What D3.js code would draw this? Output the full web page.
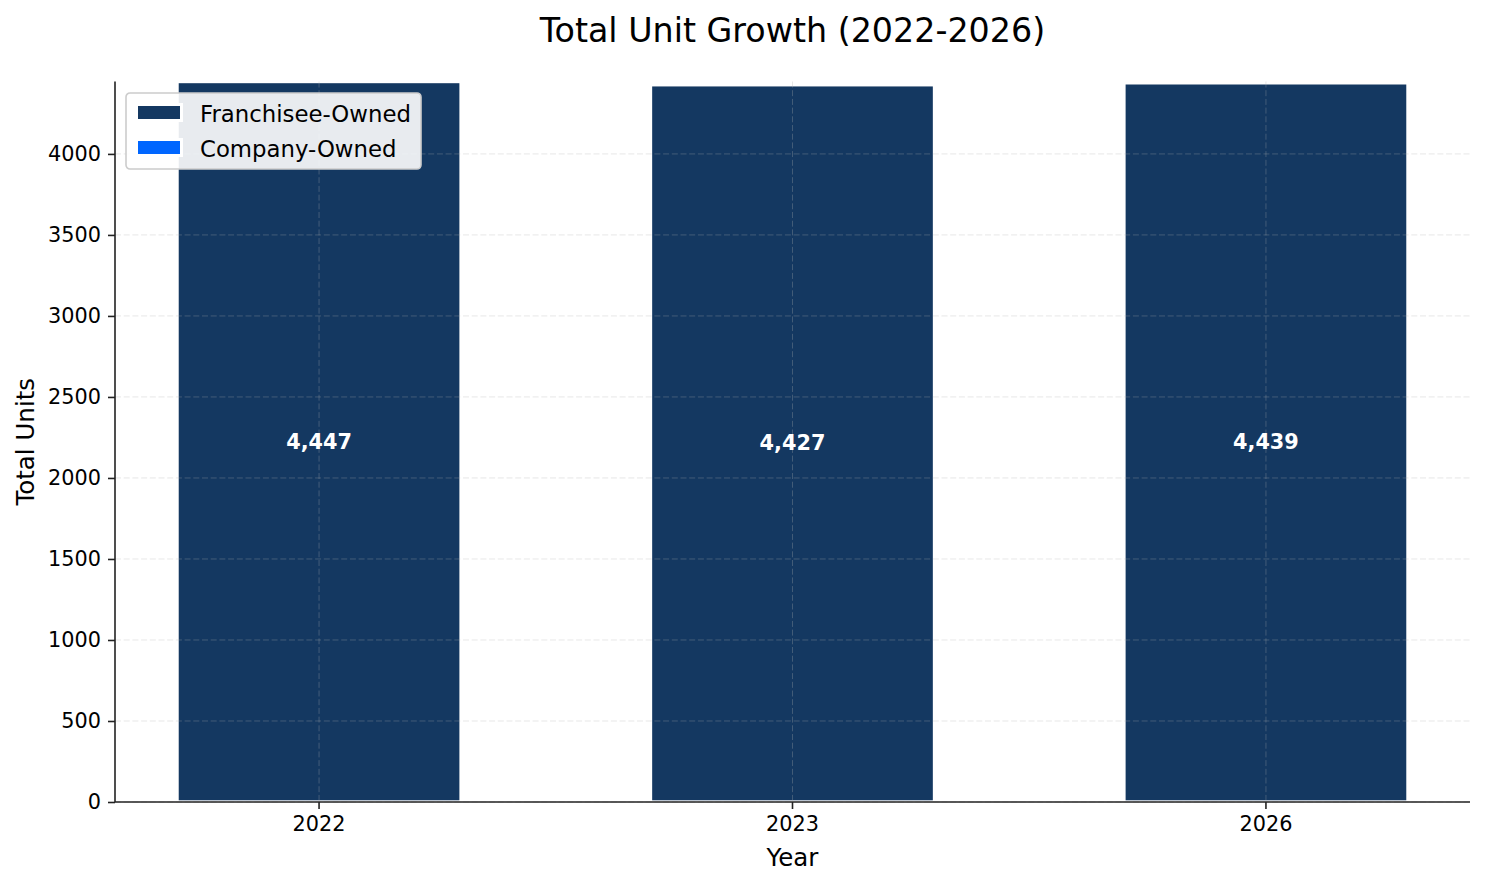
<!DOCTYPE html>
<html>
<head>
<meta charset="utf-8">
<script src="https://cdn.jsdelivr.net/npm/d3@7"></script>
<style>
  body { margin: 0; background: #fff; }
  svg { display: block; font-family: "DejaVu Sans", sans-serif; }
</style>
</head>
<body>
<svg id="chart" width="1485" height="884"></svg>
<script>
const years = ["2022", "2023", "2026"];
const franchiseeOwned = [4447, 4427, 4439];
const companyOwned = [0, 0, 0];
const totals = [4447, 4427, 4439];
const yTicks = [0, 500, 1000, 1500, 2000, 2500, 3000, 3500, 4000];
const seriesNames = ["Franchisee-Owned", "Company-Owned"];
const seriesColors = ["#143861", "#0066ff"];

const svg = d3.select("#chart");
const margin = { top: 81.5, right: 15, bottom: 82, left: 115 };
const width = 1485 - margin.left - margin.right;
const height = 884 - margin.top - margin.bottom;

const g = svg.append("g")
  .attr("transform", `translate(${margin.left},${margin.top})`);

const xscale = d3.scaleBand()
  .domain(years)
  .range([0, width])
  .paddingInner(0.4)
  .paddingOuter(0.131);

const yscale = d3.scaleLinear()
  .domain([0, d3.max(totals)])
  .range([height, 0]);

// stacked bars: franchisee at the bottom, company on top
const rows = years.map((y, i) => ({ year: y, franchisee: franchiseeOwned[i], company: companyOwned[i], total: totals[i] }));
const stack = d3.stack().keys(["franchisee", "company"])(rows);

stack.forEach((layer, li) => {
  g.append("g")
    .selectAll("rect")
    .data(layer)
    .join("rect")
    .attr("x", (d) => xscale(d.data.year))
    .attr("width", xscale.bandwidth())
    .attr("y", (d) => yscale(d[1]))
    .attr("height", (d) => yscale(d[0]) - yscale(d[1]))
    .attr("fill", seriesColors[li])
    .attr("stroke", "#fff")
    .attr("stroke-width", 3.4);
});

// grid on top of the bars
const grid = g.append("g")
  .attr("stroke", "#b0b0b0")
  .attr("stroke-opacity", 0.3)
  .attr("stroke-width", 1)
  .attr("stroke-dasharray", "6,2.7");

grid.selectAll(".hgrid")
  .data(yTicks)
  .join("line")
  .attr("x1", 0).attr("x2", width)
  .attr("y1", (d) => yscale(d)).attr("y2", (d) => yscale(d));

grid.selectAll(".vgrid")
  .data(years)
  .join("line")
  .attr("x1", (d) => xscale(d) + xscale.bandwidth() / 2)
  .attr("x2", (d) => xscale(d) + xscale.bandwidth() / 2)
  .attr("y1", 0).attr("y2", height);

// value labels in the middle of each bar
g.append("g")
  .selectAll("text")
  .data(rows)
  .join("text")
  .attr("x", (d) => xscale(d.year) + xscale.bandwidth() / 2)
  .attr("y", (d) => yscale(d.total / 2))
  .attr("text-anchor", "middle")
  .attr("dominant-baseline", "central")
  .attr("fill", "#fff")
  .attr("font-weight", "bold")
  .attr("font-size", "20.8px")
  .text((d) => d3.format(",")(d.total));

// axes
const xaxis = d3.axisBottom(xscale).tickSize(7).tickPadding(7);
const yaxis = d3.axisLeft(yscale).tickValues(yTicks).tickFormat(d3.format("d")).tickSize(7).tickPadding(7);

const gx = g.append("g").attr("transform", `translate(0,${height})`).call(xaxis);
const gy = g.append("g").call(yaxis);

[gx, gy].forEach((ax) => {
  ax.select(".domain").attr("stroke", "#222").attr("stroke-width", 1.6);
  ax.selectAll(".tick line").attr("stroke", "#222").attr("stroke-width", 1.6);
  ax.selectAll(".tick text")
    .attr("fill", "#000")
    .attr("font-size", "20.8px")
    .attr("font-family", "DejaVu Sans, sans-serif");
});
gx.select(".domain").attr("d", `M0,0H${width}`);
gy.select(".domain").attr("d", `M0,0V${height}`);

// title and axis labels
svg.append("text")
  .attr("x", margin.left + width / 2)
  .attr("y", 30)
  .attr("text-anchor", "middle")
  .attr("dominant-baseline", "central")
  .attr("font-size", "33.3px")
  .attr("fill", "#000")
  .text("Total Unit Growth (2022-2026)");

svg.append("text")
  .attr("x", margin.left + width / 2)
  .attr("y", 857)
  .attr("text-anchor", "middle")
  .attr("dominant-baseline", "central")
  .attr("font-size", "24.5px")
  .attr("fill", "#000")
  .text("Year");

svg.append("text")
  .attr("transform", `translate(25,${margin.top + height / 2}) rotate(-90)`)
  .attr("text-anchor", "middle")
  .attr("dominant-baseline", "central")
  .attr("font-size", "24.5px")
  .attr("fill", "#000")
  .text("Total Units");

// legend
const legend = svg.append("g").attr("transform", "translate(126,93)");
legend.append("rect")
  .attr("width", 295)
  .attr("height", 76)
  .attr("rx", 4)
  .attr("fill", "#fff")
  .attr("fill-opacity", 0.9)
  .attr("stroke", "#ccc")
  .attr("stroke-width", 1.6);

const items = legend.selectAll(".item")
  .data(seriesNames)
  .join("g")
  .attr("transform", (d, i) => `translate(10.5,${11.5 + i * 35})`);

items.append("rect")
  .attr("width", 45)
  .attr("height", 16)
  .attr("fill", (d, i) => seriesColors[i])
  .attr("stroke", "#fff")
  .attr("stroke-width", 3);

items.append("text")
  .attr("x", 63.5)
  .attr("y", 9)
  .attr("dominant-baseline", "central")
  .attr("font-size", "22.8px")
  .attr("fill", "#000")
  .text((d) => d);
</script>
</body>
</html>
